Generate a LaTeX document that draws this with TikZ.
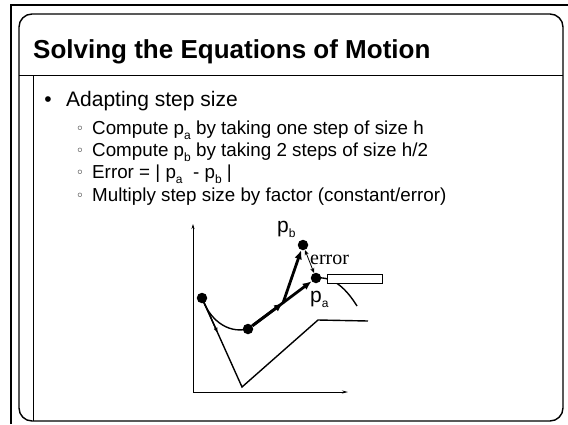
\documentclass[tikz,border=0pt]{standalone}
\usepackage{fontspec}
\setmainfont{Liberation Sans}
\newfontfamily\serifface{Liberation Serif}
\newfontfamily\symface{DejaVu Sans}
\usetikzlibrary{arrows.meta,calc}
\newcommand{\sbs}[1]{\raisebox{-0.28em}{\fontsize{12}{13}\selectfont #1}}
\begin{document}
\begin{tikzpicture}[x=1pt,y=-1pt,
  dot/.style={circle,fill=black,inner sep=0pt,minimum size=10.5pt},
  bigarrow/.style={line width=2.8pt,-{Latex[length=9pt,width=7.5pt]}},
  thinline/.style={line width=1.4pt},
  frame/.style={line width=1.4pt},
  txt/.style={anchor=base west,inner sep=0pt},
  titlefont/.style={font=\bfseries\fontsize{26}{30}\selectfont},
  mainfont/.style={font=\fontsize{21}{25}\selectfont},
  subfont/.style={font=\fontsize{18.8}{22}\selectfont},
  subbullet/.style={anchor=base,inner sep=0pt,font=\symface\fontsize{14}{15}\selectfont},
  lblfont/.style={font=\fontsize{21}{24}\selectfont}]
\useasboundingbox (0,0) rectangle (568,424);
\fill[white] (0,0) rectangle (568,424);
% frames
\draw[line width=2.2pt] (11,424) -- (11,5) -- (568,5);
\draw[frame,rounded corners=13pt] (19,14) rectangle (563,421);
\draw[line width=1pt] (19,75) -- (563,75);
\draw[line width=1pt] (33,75) -- (33,421);
% title
\node[txt,titlefont] (title) at (33,58) {Solving the Equations of Motion};
% bullets
\node[anchor=base,inner sep=0pt,mainfont] (bul0) at (48,106.5) {•};
\node[txt,mainfont] (b0) at (66,106.5) {Adapting step size};
\node[subbullet] (bul1) at (80,133) {◦};
\node[txt,subfont] (b1) at (92,134) {Compute p\sbs{a} by taking one step of size h};
\node[subbullet] (bul2) at (80,155) {◦};
\node[txt,subfont] (b2) at (92,156) {Compute p\sbs{b} by taking 2 steps of size h/2};
\node[subbullet] (bul3) at (80,177) {◦};
\node[txt,subfont] (b3) at (92,178) {Error = | p\sbs{a}\ \ - p\sbs{b} |};
\node[subbullet] (bul4) at (80,200) {◦};
\node[txt,subfont] (b4) at (92,201) {Multiply step size by factor (constant/error)};
% axes
\coordinate (O) at (193,392);
\coordinate (ytop) at (193,224);
\coordinate (xend) at (348,392);
\draw[line width=0.9pt,-{Stealth[length=5pt,width=3pt]}] (O) -- (ytop);
\draw[line width=0.9pt,-{Stealth[length=6pt,width=3pt]}] (O) -- (xend);
% points
\node[dot] (L) at (202,298) {};
\node[dot] (M) at (248,329) {};
\node[dot] (pa) at (316,278) {};
\node[dot] (pb) at (303,245) {};
\coordinate (H) at (283,303);
\coordinate (V) at (242,387);
\coordinate (K) at (318,320);
\coordinate (E) at (368,321);
\coordinate (C) at (357,306);
\coordinate (Lmid) at ($(L.center)!0.4!(V)$);
% polyline and curves
\draw[thinline] (L.center) -- (V) -- (K) -- (E);
\draw[thinline,-{Latex[length=6pt,width=4pt]}] (L) -- (Lmid);
\draw[thinline] (L.center) .. controls (209,318) and (226,334) .. (M.center);
\draw[thinline] (pa.center) .. controls (334,276) and (347,290) .. (C);
% box
\node[draw,fill=white,line width=0.8pt,minimum width=55pt,minimum height=9pt,inner sep=0pt] (box) at (354.5,278.5) {};
% step arrows
\draw[bigarrow] (M) -- (pa);
\draw[bigarrow] (M) -- (H);
\draw[bigarrow] (H) -- (pb);
\draw[line width=0.8pt,{Stealth[length=5pt,width=4pt]}-{Stealth[length=5pt,width=4pt]}] (pb) -- (pa);
% labels
\node[txt,lblfont] (pblab) at (277,232) {p\sbs{b}};
\node[txt,lblfont] (palab) at (310,302) {p\sbs{a}};
\node[txt,font=\serifface\fontsize{20}{24}\selectfont] (err) at (310,264) {error};
\end{tikzpicture}
\end{document}
